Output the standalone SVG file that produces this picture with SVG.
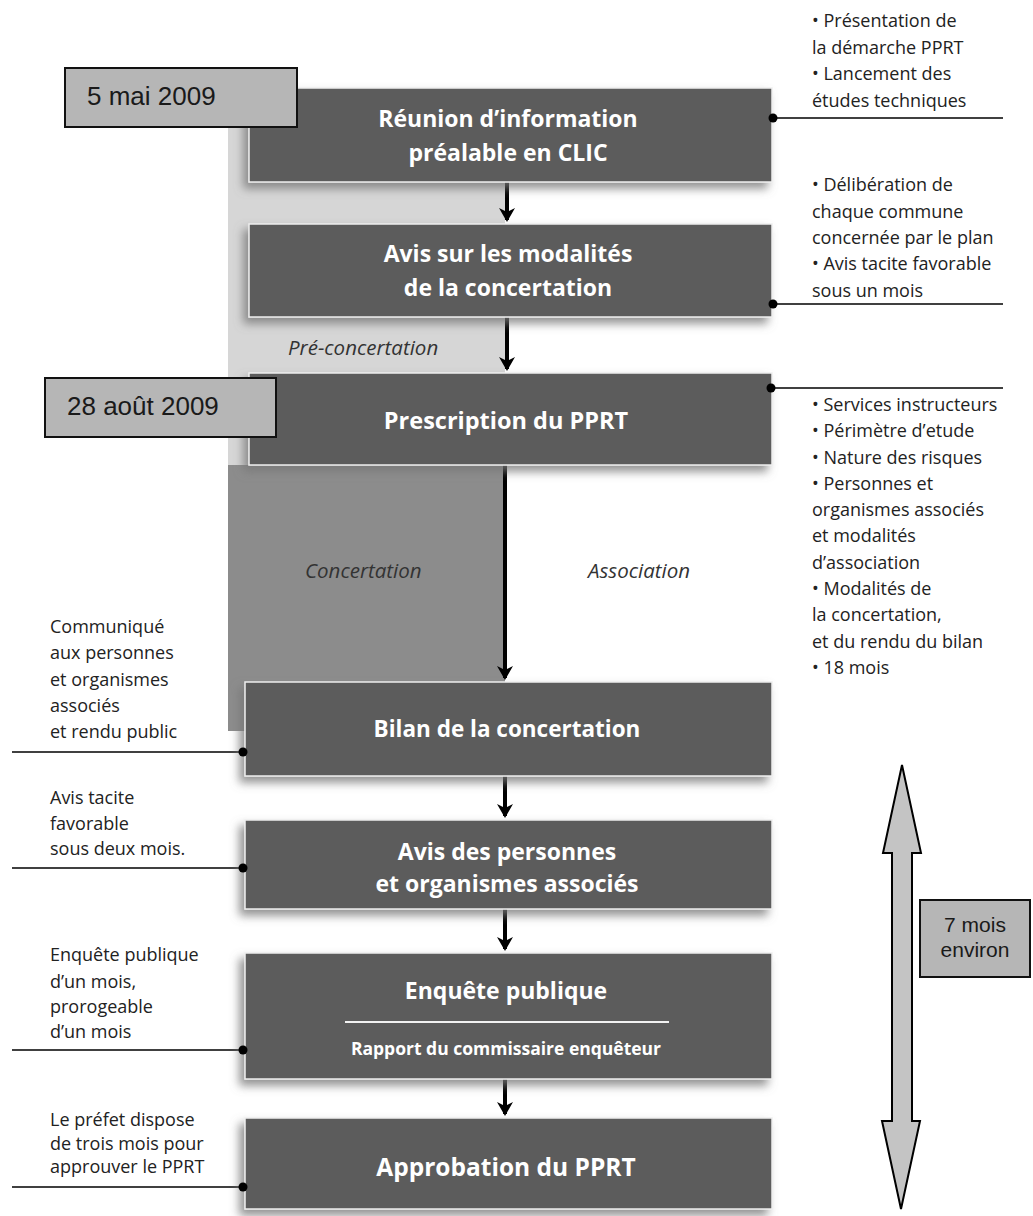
<svg xmlns="http://www.w3.org/2000/svg" width="1033" height="1216" viewBox="0 0 1033 1216">
<defs>
<style>
.box{fill:#5c5c5c;stroke:#eeeeee;stroke-width:1.5;filter:url(#sh)}
.bt{font-family:"Open Sans","Noto Sans",sans-serif;font-weight:bold;fill:#ffffff;text-anchor:middle}
.side{font-family:"Open Sans","Noto Sans",sans-serif;font-size:18px;fill:#222222}
.it{font-family:"Open Sans","Noto Sans",sans-serif;font-style:italic;fill:#333333;font-size:20.5px}
.date{fill:#b6b6b6;stroke:#111111;stroke-width:2}
.dt{font-family:"Liberation Sans",Arial,sans-serif;font-size:26px;fill:#1a1a1a}
.flow{stroke:#000000;stroke-width:4;fill:none}
.lead{stroke:#000000;stroke-width:1.5;fill:none}
.dot{fill:#000000}
</style>
<filter id="sh" x="-10%" y="-20%" width="120%" height="150%">
<feDropShadow dx="-5" dy="6" stdDeviation="5" flood-color="#777777" flood-opacity="0.8"/>
</filter>
<marker id="ah" markerUnits="userSpaceOnUse" markerWidth="20" markerHeight="20" refX="12" refY="8" orient="auto">
<path d="M0,0 L14,8 L0,16 L4,8 z" fill="#000000"/>
</marker>
</defs>

<g id="background">
<rect x="228" y="100" width="277" height="365" fill="#d6d6d6"/>
<rect x="228" y="465" width="277" height="266" fill="#8c8c8c"/>
<text class="it" x="288" y="355">Pré-concertation</text>
<text class="it" x="305" y="578" fill="#555555">Concertation</text>
<text class="it" x="588" y="578">Association</text>
</g>

<g id="connectors">
<line class="flow" x1="507" y1="182" x2="507" y2="220" marker-end="url(#ah)"/>
<line class="flow" x1="507" y1="317" x2="507" y2="369" marker-end="url(#ah)"/>
<line class="flow" x1="505" y1="465" x2="505" y2="678" marker-end="url(#ah)"/>
<line class="flow" x1="505" y1="776" x2="505" y2="816" marker-end="url(#ah)"/>
<line class="flow" x1="505" y1="909" x2="505" y2="949" marker-end="url(#ah)"/>
<line class="flow" x1="505" y1="1079" x2="505" y2="1114" marker-end="url(#ah)"/>
<line class="lead" x1="773" y1="118" x2="1003" y2="118"/>
<line class="lead" x1="773" y1="304" x2="1003" y2="304"/>
<line class="lead" x1="773" y1="388" x2="1003" y2="388"/>
<line class="lead" x1="12" y1="752" x2="243" y2="752"/>
<line class="lead" x1="12" y1="868" x2="243" y2="868"/>
<line class="lead" x1="12" y1="1050" x2="243" y2="1050"/>
<line class="lead" x1="12" y1="1187" x2="243" y2="1187"/>
</g>

<g id="n1">
<rect class="box" x="249" y="88" width="523" height="94"/>
<text class="bt" x="508" y="127" font-size="23">Réunion d’information</text>
<text class="bt" x="508" y="161" font-size="23">préalable en CLIC</text>
</g>
<g id="n2">
<rect class="box" x="249" y="224" width="523" height="93"/>
<text class="bt" x="508" y="262" font-size="23">Avis sur les modalités</text>
<text class="bt" x="508" y="296" font-size="23">de la concertation</text>
</g>
<g id="n3">
<rect class="box" x="249" y="373" width="523" height="92"/>
<text class="bt" x="506" y="429" font-size="23.5">Prescription du PPRT</text>
</g>
<g id="n4">
<rect class="box" x="245" y="682" width="527" height="94"/>
<text class="bt" x="507" y="737" font-size="22.5">Bilan de la concertation</text>
</g>
<g id="n5">
<rect class="box" x="245" y="820" width="527" height="89"/>
<text class="bt" x="507" y="860" font-size="23">Avis des personnes</text>
<text class="bt" x="507" y="892" font-size="23">et organismes associés</text>
</g>
<g id="n6">
<rect class="box" x="245" y="953" width="527" height="126"/>
<text class="bt" x="506" y="999" font-size="23">Enquête publique</text>
<line x1="345" y1="1022" x2="669" y2="1022" stroke="#f2f2f2" stroke-width="2"/>
<text class="bt" x="506" y="1055" font-size="17.5">Rapport du commissaire enquêteur</text>
</g>
<g id="n7">
<rect class="box" x="245" y="1118" width="527" height="91"/>
<text class="bt" x="506" y="1176" font-size="24.5">Approbation du PPRT</text>
</g>

<g id="dots">
<circle class="dot" cx="773" cy="118" r="4.5"/>
<circle class="dot" cx="773" cy="304" r="4.5"/>
<circle class="dot" cx="771" cy="388" r="4.5"/>
<circle class="dot" cx="243" cy="752" r="4.5"/>
<circle class="dot" cx="243" cy="868" r="4.5"/>
<circle class="dot" cx="243" cy="1050" r="4.5"/>
<circle class="dot" cx="243" cy="1187" r="4.5"/>
</g>

<g id="date1">
<rect class="date" x="65" y="68" width="232" height="59"/>
<text class="dt" x="87" y="105">5 mai 2009</text>
</g>
<g id="date2">
<rect class="date" x="45" y="378" width="231" height="59"/>
<text class="dt" x="67" y="415">28 août 2009</text>
</g>

<g id="note1">
<text class="side" x="812" y="27">• Présentation de</text>
<text class="side" x="812" y="54">la démarche PPRT</text>
<text class="side" x="812" y="80">• Lancement des</text>
<text class="side" x="812" y="107">études techniques</text>
</g>
<g id="note2">
<text class="side" x="812" y="191">• Délibération de</text>
<text class="side" x="812" y="218">chaque commune</text>
<text class="side" x="812" y="244">concernée par le plan</text>
<text class="side" x="812" y="270">• Avis tacite favorable</text>
<text class="side" x="812" y="297">sous un mois</text>
</g>
<g id="note3">
<text class="side" x="812" y="411">• Services instructeurs</text>
<text class="side" x="812" y="437">• Périmètre d’etude</text>
<text class="side" x="812" y="464">• Nature des risques</text>
<text class="side" x="812" y="490">• Personnes et</text>
<text class="side" x="812" y="516">organismes associés</text>
<text class="side" x="812" y="542">et modalités</text>
<text class="side" x="812" y="569">d’association</text>
<text class="side" x="812" y="595">• Modalités de</text>
<text class="side" x="812" y="621">la concertation,</text>
<text class="side" x="812" y="648">et du rendu du bilan</text>
<text class="side" x="812" y="674">• 18 mois</text>
</g>
<g id="note4">
<text class="side" x="50" y="633">Communiqué</text>
<text class="side" x="50" y="659">aux personnes</text>
<text class="side" x="50" y="686">et organismes</text>
<text class="side" x="50" y="712">associés</text>
<text class="side" x="50" y="738">et rendu public</text>
</g>
<g id="note5">
<text class="side" x="50" y="804">Avis tacite</text>
<text class="side" x="50" y="830">favorable</text>
<text class="side" x="50" y="855">sous deux mois.</text>
</g>
<g id="note6">
<text class="side" x="50" y="961">Enquête publique</text>
<text class="side" x="50" y="988">d’un mois,</text>
<text class="side" x="50" y="1013">prorogeable</text>
<text class="side" x="50" y="1038">d’un mois</text>
</g>
<g id="note7">
<text class="side" x="50" y="1126">Le préfet dispose</text>
<text class="side" x="50" y="1150">de trois mois pour</text>
<text class="side" x="50" y="1173">approuver le PPRT</text>
</g>

<g id="duration">
<polygon points="902,765 921,853 912,853 912,1121 920,1121 901,1209 882,1121 892,1121 892,853 883,853" fill="#c4c4c4" stroke="#000000" stroke-width="2" stroke-linejoin="miter"/>
<rect class="date" x="920" y="900" width="110" height="77" stroke-width="1.5"/>
<text class="dt" x="975" y="932" text-anchor="middle" style="font-size:21px">7 mois</text>
<text class="dt" x="975" y="957" text-anchor="middle" style="font-size:21px">environ</text>
</g>
</svg>
